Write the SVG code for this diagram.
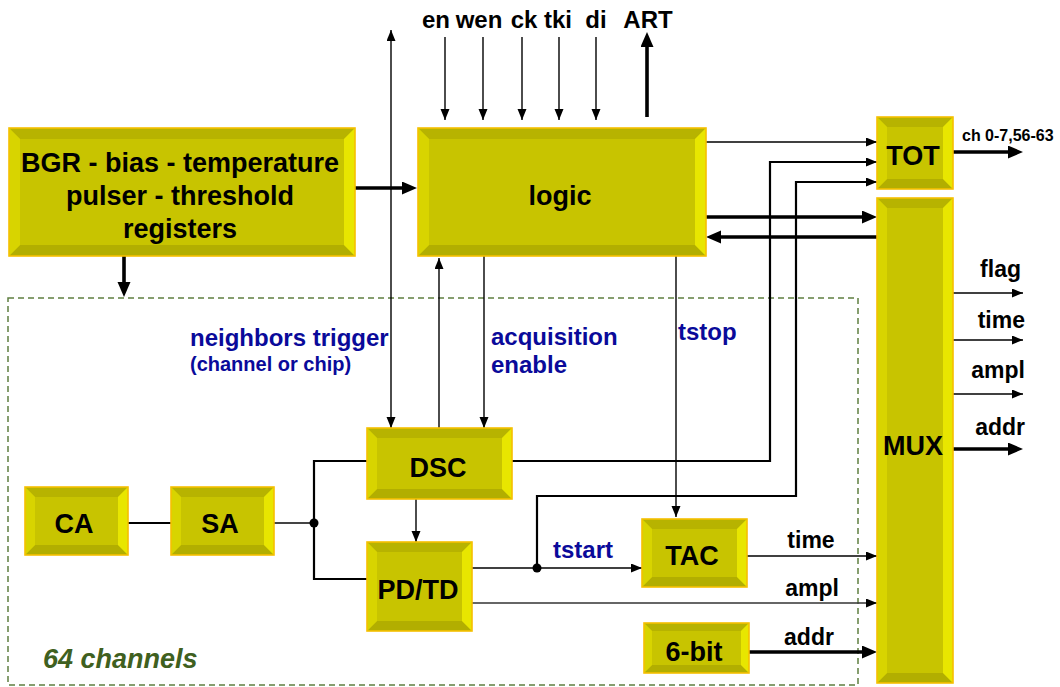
<svg xmlns="http://www.w3.org/2000/svg" width="1060" height="687" viewBox="0 0 1060 687">
  <style>
    text { font-family: "Liberation Sans", Arial, sans-serif; font-weight: bold; }
    .lbl { font-size: 27px; fill: #000; text-anchor: middle; }
    .sig { font-size: 23px; fill: #000; }
    .blue { font-size: 24px; fill: #0a0a9a; }
    .face { fill: #c8c400; }
    .bt { fill: #b7b300; }
    .bb { fill: #b2ae00; }
    .bl { fill: #d8d400; }
    .br { fill: #e8e600; }
    .edge { fill: none; stroke: #f6c000; stroke-width: 1.6; }
    .thin { fill: none; stroke: #000; stroke-width: 1.4; }
    .mid { fill: none; stroke: #000; stroke-width: 2.2; }
    .thick { fill: none; stroke: #000; stroke-width: 3.6; }
    .frame { fill: none; stroke: #5f7f40; stroke-width: 1.5; stroke-dasharray: 6 4; }
  </style>
  <defs>
    <marker id="ah" markerUnits="userSpaceOnUse" markerWidth="12" markerHeight="10" refX="11" refY="4.5" orient="auto-start-reverse">
      <path d="M0,0 L11,4.5 L0,9 z" fill="#000"/>
    </marker>
    <marker id="ahB" markerUnits="userSpaceOnUse" markerWidth="16" markerHeight="14" refX="9" refY="6.5" orient="auto">
      <path d="M0,0 L15,6.5 L0,13 z" fill="#000"/>
    </marker>
  </defs>

  <rect width="1060" height="687" fill="#fff"/>

  <!-- per-channel area -->
  <rect class="frame" x="8" y="298" width="850" height="387"/>
  <text x="43" y="668" style="font-size:27px;font-style:italic;fill:#3f6020">64 channels</text>

  <!-- connectors -->
  <g id="connectors">
    <!-- configuration inputs to logic -->
    <line class="thin" x1="445" y1="37" x2="445" y2="120" marker-end="url(#ah)"/>
    <line class="thin" x1="483" y1="37" x2="483" y2="120" marker-end="url(#ah)"/>
    <line class="thin" x1="522" y1="37" x2="522" y2="120" marker-end="url(#ah)"/>
    <line class="thin" x1="559" y1="37" x2="559" y2="120" marker-end="url(#ah)"/>
    <line class="thin" x1="596" y1="37" x2="596" y2="120" marker-end="url(#ah)"/>
    <line class="thick" x1="647" y1="117" x2="647" y2="38" marker-end="url(#ahB)"/>

    <!-- neighbors trigger, bidirectional -->
    <line class="thin" x1="391" y1="30" x2="391" y2="428" marker-start="url(#ah)" marker-end="url(#ah)"/>

    <!-- bias block outputs -->
    <line class="thick" x1="355" y1="188" x2="411" y2="188" marker-end="url(#ahB)"/>
    <line class="thick" x1="124" y1="256" x2="124" y2="291" marker-end="url(#ahB)"/>

    <!-- logic / DSC -->
    <line class="thin" x1="439" y1="428" x2="439" y2="258" marker-end="url(#ah)"/>
    <line class="thin" x1="484" y1="256" x2="484" y2="428" marker-end="url(#ah)"/>
    <line class="thin" x1="676" y1="256" x2="676" y2="517" marker-end="url(#ah)"/>

    <!-- logic / TOT / MUX -->
    <line class="thin" x1="706" y1="142" x2="877" y2="142" marker-end="url(#ah)"/>
    <polyline class="mid" points="512,461 770,461 770,162 866,162"/>
    <line class="thin" x1="860" y1="162" x2="877" y2="162" marker-end="url(#ah)"/>
    <polyline class="mid" points="537,568 537,496 796,496 796,182 866,182"/>
    <line class="thin" x1="860" y1="182" x2="877" y2="182" marker-end="url(#ah)"/>
    <line class="thick" x1="706" y1="217" x2="871" y2="217" marker-end="url(#ahB)"/>
    <line class="thick" x1="877" y1="237" x2="712" y2="237" marker-end="url(#ahB)"/>

    <!-- chip outputs -->
    <line class="thick" x1="953" y1="152" x2="1017" y2="152" marker-end="url(#ahB)"/>
    <line class="thin" x1="953" y1="293" x2="1023" y2="293" marker-end="url(#ah)"/>
    <line class="thin" x1="953" y1="340" x2="1023" y2="340" marker-end="url(#ah)"/>
    <line class="thin" x1="953" y1="394" x2="1023" y2="394" marker-end="url(#ah)"/>
    <line class="thick" x1="953" y1="449" x2="1017" y2="449" marker-end="url(#ahB)"/>

    <!-- analog chain -->
    <line class="mid" x1="128" y1="523" x2="171" y2="523"/>
    <line class="thin" x1="274" y1="523" x2="314" y2="523" style="stroke:#444;stroke-width:1.8"/>
    <polyline class="mid" points="367,461 314,461 314,579 367,579"/>
    <circle cx="314" cy="523" r="4.5" fill="#000"/>
    <line class="thin" x1="416" y1="499" x2="416" y2="542" marker-end="url(#ah)"/>
    <line class="thin" x1="472" y1="568" x2="642" y2="568" marker-end="url(#ah)"/>
    <circle cx="537" cy="568" r="4.5" fill="#000"/>

    <!-- channel outputs to MUX -->
    <line class="thin" x1="747" y1="556" x2="877" y2="556" marker-end="url(#ah)"/>
    <line class="thin" x1="472" y1="603" x2="877" y2="603" style="stroke:#333;stroke-width:1.6" marker-end="url(#ah)"/>
    <line class="thick" x1="749" y1="652" x2="871" y2="652" marker-end="url(#ahB)"/>
  </g>

  <!-- signal labels -->
  <g id="labels">
    <text class="sig" x="436" y="28" text-anchor="middle" style="font-size:24px">en</text>
    <text class="sig" x="479" y="28" text-anchor="middle" style="font-size:24px">wen</text>
    <text class="sig" x="524" y="28" text-anchor="middle" style="font-size:24px">ck</text>
    <text class="sig" x="558" y="28" text-anchor="middle" style="font-size:24px">tki</text>
    <text class="sig" x="596" y="28" text-anchor="middle" style="font-size:24px">di</text>
    <text class="sig" x="648" y="28" text-anchor="middle" style="font-size:24px">ART</text>

    <text x="962" y="141" style="font-size:16px">ch 0-7,56-63</text>
    <text class="sig" x="1021" y="277" text-anchor="end">flag</text>
    <text class="sig" x="1025" y="328" text-anchor="end">time</text>
    <text class="sig" x="1025" y="378" text-anchor="end">ampl</text>
    <text class="sig" x="1025" y="435" text-anchor="end">addr</text>

    <text class="blue" x="190" y="346">neighbors trigger</text>
    <text class="blue" x="190" y="371" style="font-size:20px">(channel or chip)</text>
    <text class="blue" x="491" y="345">acquisition</text>
    <text class="blue" x="491" y="373">enable</text>
    <text class="blue" x="678" y="340">tstop</text>
    <text class="blue" x="553" y="558">tstart</text>

    <text class="sig" x="811" y="548" text-anchor="middle">time</text>
    <text class="sig" x="812" y="596" text-anchor="middle">ampl</text>
    <text class="sig" x="809" y="645" text-anchor="middle">addr</text>
  </g>

  <!-- blocks -->
  <g id="bgr">
    <rect class="face" x="9" y="128" width="346" height="128"/>
    <polygon class="bt" points="9,128 355,128 344,139 20,139"/>
    <polygon class="bb" points="9,256 355,256 344,245 20,245"/>
    <polygon class="bl" points="9,128 20,139 20,245 9,256"/>
    <polygon class="br" points="355,128 344,139 344,245 355,256"/>
    <rect class="edge" x="9" y="128" width="346" height="128"/>
    <text class="lbl" x="180" y="172">BGR - bias - temperature</text>
    <text class="lbl" x="180" y="205">pulser - threshold</text>
    <text class="lbl" x="180" y="238">registers</text>
  </g>

  <g id="logic">
    <rect class="face" x="418" y="128" width="288" height="128"/>
    <polygon class="bt" points="418,128 706,128 695,139 429,139"/>
    <polygon class="bb" points="418,256 706,256 695,245 429,245"/>
    <polygon class="bl" points="418,128 429,139 429,245 418,256"/>
    <polygon class="br" points="706,128 695,139 695,245 706,256"/>
    <rect class="edge" x="418" y="128" width="288" height="128"/>
    <text class="lbl" x="560" y="205">logic</text>
  </g>

  <g id="tot">
    <rect class="face" x="877" y="117" width="76" height="72"/>
    <polygon class="bt" points="877,117 953,117 943,127 887,127"/>
    <polygon class="bb" points="877,189 953,189 943,179 887,179"/>
    <polygon class="bl" points="877,117 887,127 887,179 877,189"/>
    <polygon class="br" points="953,117 943,127 943,179 953,189"/>
    <rect class="edge" x="877" y="117" width="76" height="72"/>
    <text class="lbl" x="913" y="165">TOT</text>
  </g>

  <g id="mux">
    <rect class="face" x="877" y="198" width="76" height="485"/>
    <polygon class="bt" points="877,198 953,198 943,208 887,208"/>
    <polygon class="bb" points="877,683 953,683 943,673 887,673"/>
    <polygon class="bl" points="877,198 887,208 887,673 877,683"/>
    <polygon class="br" points="953,198 943,208 943,673 953,683"/>
    <rect class="edge" x="877" y="198" width="76" height="485"/>
    <text class="lbl" x="913" y="455">MUX</text>
  </g>

  <g id="dsc">
    <rect class="face" x="367" y="428" width="145" height="71"/>
    <polygon class="bt" points="367,428 512,428 502,438 377,438"/>
    <polygon class="bb" points="367,499 512,499 502,489 377,489"/>
    <polygon class="bl" points="367,428 377,438 377,489 367,499"/>
    <polygon class="br" points="512,428 502,438 502,489 512,499"/>
    <rect class="edge" x="367" y="428" width="145" height="71"/>
    <text class="lbl" x="438" y="477">DSC</text>
  </g>

  <g id="pdtd">
    <rect class="face" x="367" y="542" width="105" height="89"/>
    <polygon class="bt" points="367,542 472,542 462,552 377,552"/>
    <polygon class="bb" points="367,631 472,631 462,621 377,621"/>
    <polygon class="bl" points="367,542 377,552 377,621 367,631"/>
    <polygon class="br" points="472,542 462,552 462,621 472,631"/>
    <rect class="edge" x="367" y="542" width="105" height="89"/>
    <text class="lbl" x="418" y="599">PD/TD</text>
  </g>

  <g id="ca">
    <rect class="face" x="25" y="487" width="103" height="68"/>
    <polygon class="bt" points="25,487 128,487 118,497 35,497"/>
    <polygon class="bb" points="25,555 128,555 118,545 35,545"/>
    <polygon class="bl" points="25,487 35,497 35,545 25,555"/>
    <polygon class="br" points="128,487 118,497 118,545 128,555"/>
    <rect class="edge" x="25" y="487" width="103" height="68"/>
    <text class="lbl" x="74" y="533">CA</text>
  </g>

  <g id="sa">
    <rect class="face" x="171" y="487" width="103" height="68"/>
    <polygon class="bt" points="171,487 274,487 264,497 181,497"/>
    <polygon class="bb" points="171,555 274,555 264,545 181,545"/>
    <polygon class="bl" points="171,487 181,497 181,545 171,555"/>
    <polygon class="br" points="274,487 264,497 264,545 274,555"/>
    <rect class="edge" x="171" y="487" width="103" height="68"/>
    <text class="lbl" x="220" y="533">SA</text>
  </g>

  <g id="tac">
    <rect class="face" x="642" y="519" width="105" height="68"/>
    <polygon class="bt" points="642,519 747,519 737,529 652,529"/>
    <polygon class="bb" points="642,587 747,587 737,577 652,577"/>
    <polygon class="bl" points="642,519 652,529 652,577 642,587"/>
    <polygon class="br" points="747,519 737,529 737,577 747,587"/>
    <rect class="edge" x="642" y="519" width="105" height="68"/>
    <text class="lbl" x="692" y="565">TAC</text>
  </g>

  <g id="addr6">
    <rect class="face" x="644" y="623" width="105" height="50"/>
    <polygon class="bt" points="644,623 749,623 741,631 652,631"/>
    <polygon class="bb" points="644,673 749,673 741,665 652,665"/>
    <polygon class="bl" points="644,623 652,631 652,665 644,673"/>
    <polygon class="br" points="749,623 741,631 741,665 749,673"/>
    <rect class="edge" x="644" y="623" width="105" height="50"/>
    <text class="lbl" x="694" y="661">6-bit</text>
  </g>
</svg>
